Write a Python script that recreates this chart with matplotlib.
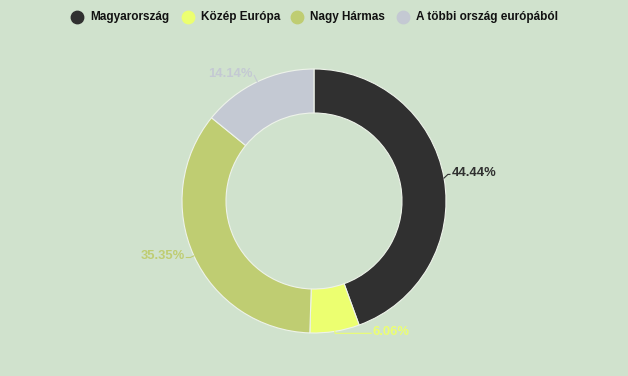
import numpy as np
import matplotlib.pyplot as plt

# data
categories = ['Magyarország', 'Közép Európa', 'Nagy Hármas', 'A többi ország európából']
values = [44, 6, 35, 14]
colors = ['#303030', '#ecff70', '#bfcd72', '#c4c9d3']
bg = '#d0e2cd'

plt.rcParams['font.family'] = ['Liberation Sans', 'DejaVu Sans']

W, H = 628, 376
fig = plt.figure(figsize=(W / 100, H / 100), dpi=100, facecolor=bg)
ax = fig.add_axes([0, 0, 1, 1])
ax.set_facecolor(bg)

cx, cy = 314, H - 201
R, r_in = 132, 88

wedges, _ = ax.pie(values, colors=colors, startangle=90, counterclock=False,
                   center=(cx, cy), radius=R, frame=True,
                   wedgeprops=dict(width=R - r_in, edgecolor='#eef3ea', linewidth=0.8))
ax.set_xlim(0, W)
ax.set_ylim(0, H)
ax.set_aspect('equal')
ax.axis('off')

# percentage labels with leader lines
total = sum(values)
len1 = [4, 2, 4, 7]
len2 = [2, 36, 4, 0]
dy = [3, 0, 0, 0]
for w, v, c, l1, l2, d in zip(wedges, values, colors, len1, len2, dy):
    ang = np.deg2rad((w.theta1 + w.theta2) / 2)
    ca, sa = np.cos(ang), np.sin(ang)
    x0, y0 = cx + R * ca, cy + R * sa
    x1, y1 = cx + (R + l1) * ca, cy + (R + l1) * sa + d
    side = 1 if ca >= 0 else -1
    x2 = x1 + side * l2
    ax.plot([x0, x1, x2], [y0, y1, y1], color=c, lw=0.8)
    ax.text(x2 + side * 1.5, y1 + 1, f'{v / total * 100:.2f}%', color=c,
            fontsize=9.4, fontweight='bold', ha='left' if side > 0 else 'right',
            va='center')

# legend across the top
leg_x = [77, 188, 297, 403]
for lx, lab, c in zip(leg_x, categories, colors):
    ax.scatter([lx], [H - 17], s=80, color=c, zorder=3)
    ax.text(lx + 13, H - 17, lab, fontsize=8.5, fontweight='bold',
            color='#111111', ha='left', va='center')

fig.savefig('out.png', dpi=100, facecolor=bg)
